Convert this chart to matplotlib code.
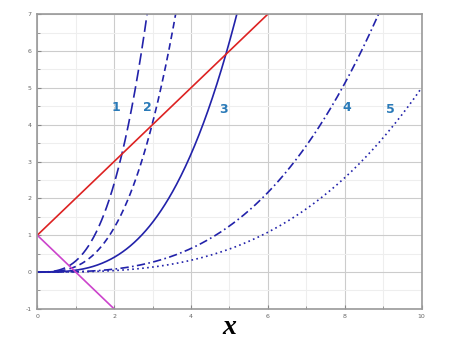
import numpy as np
import matplotlib.pyplot as plt
from matplotlib.ticker import MultipleLocator

plt.rcParams["axes.unicode_minus"] = False

# Cubic curves y = k * x^3, one per label
curve_labels = ["1", "2", "3", "4", "5"]
curve_coefs = [0.3, 0.15, 0.05, 0.01, 0.005]
curve_styles = [(0, (7, 3)), (0, (4, 2.5)), "-", (0, (5, 2, 1, 2)), (0, (1, 2))]
label_x = [2.05, 2.86, 4.84, 8.06, 9.18]
label_y = [4.47, 4.47, 4.42, 4.47, 4.42]

# Straight lines
red_x = [0, 6]
red_y = [1, 7]
mag_x = [0, 2]
mag_y = [1, -1]

fig = plt.figure(figsize=(4.49, 3.44), dpi=100)
ax = fig.add_axes([0.083, 0.102, 0.856, 0.857])

x = np.linspace(0, 10, 600)
for k, ls in zip(curve_coefs, curve_styles):
    y = k * x ** 3
    mask = y <= 7.2
    ax.plot(x[mask], y[mask], color="#2222aa", linestyle=ls, lw=1.2)

ax.plot(red_x, red_y, color="#dd2222", lw=1.2)
ax.plot(mag_x, mag_y, color="#cc44cc", lw=1.2)

for lab, lx, ly in zip(curve_labels, label_x, label_y):
    ax.text(lx, ly, lab, color="#2a7ab8", fontsize=9, fontweight="bold",
            ha="center", va="center")

ax.set_xlim(0, 10)
ax.set_ylim(-1, 7)
ax.xaxis.set_major_locator(MultipleLocator(2))
ax.xaxis.set_minor_locator(MultipleLocator(1))
ax.yaxis.set_major_locator(MultipleLocator(1))
ax.yaxis.set_minor_locator(MultipleLocator(0.5))
ax.grid(which="major", color="#cccccc", lw=0.8)
ax.grid(which="minor", color="#eeeeee", lw=0.8)
ax.set_axisbelow(True)

for sp in ax.spines.values():
    sp.set_color("#999999")
    sp.set_linewidth(1.2)

ax.tick_params(which="both", labelsize=4.5, labelcolor="#666666", color="#888888",
               direction="in")
ax.tick_params(which="major", length=3, pad=4)
ax.tick_params(which="minor", length=2)

ax.set_xlabel("x", fontsize=20, fontweight="bold", fontstyle="italic",
              family="Liberation Serif", labelpad=-3)

fig.savefig("out.png", dpi=100)
